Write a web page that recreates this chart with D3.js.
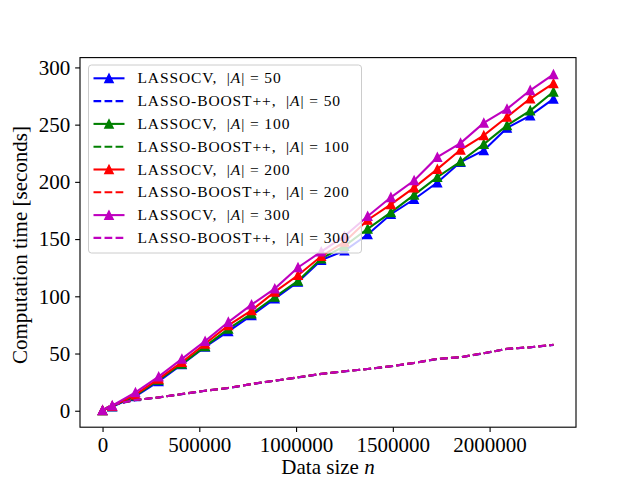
<!DOCTYPE html>
<html>
<head>
<meta charset="utf-8">
<script src="https://cdn.jsdelivr.net/npm/d3@7"></script>
<style>
  body { margin: 0; background: #fff; }
  svg text { font-family: "Liberation Serif", "DejaVu Serif", serif; }
</style>
</head>
<body>
<div id="chart"></div>
<script>
// data size n
const xValues = [0, 50000, 170000, 290000, 410000, 530000, 650000, 770000, 890000, 1010000,
  1130000, 1250000, 1370000, 1490000, 1610000, 1730000, 1850000, 1970000, 2090000, 2210000, 2330000];

// LassoCV computation time, one per |A|
const lassoCv50 = [0.3, 3.5, 12.6, 25.7, 40.4, 55.8, 69.3, 83.3, 98.0, 112.5, 131.6, 139.8, 154.0,
  171.7, 184.8, 199.4, 217.3, 227.5, 247.1, 257.9, 272.5];
const lassoCv100 = [0.3, 3.8, 13.2, 26.9, 41.0, 56.3, 71.6, 84.8, 99.4, 113.4, 133.0, 143.8, 159.0,
  173.4, 188.6, 204.1, 217.8, 233.0, 249.4, 262.3, 278.7];
const lassoCv200 = [0.4, 4.0, 14.0, 27.8, 42.4, 58.5, 74.6, 87.7, 103.8, 118.4, 135.0, 147.5, 166.7,
  180.4, 195.0, 211.1, 228.0, 240.6, 256.7, 272.8, 286.0];
const lassoCv300 = [0.5, 4.5, 16.0, 29.8, 45.3, 60.8, 77.5, 92.7, 106.7, 125.2, 139.0, 152.5, 170.0,
  186.5, 201.2, 221.6, 233.9, 251.5, 263.7, 280.0, 293.9];

// Lasso-Boost++ computation time (the four curves lie on top of each other)
const boost50 = [0.3, 5.2, 9.3, 11.6, 14.5, 17.4, 19.8, 23.3, 26.2, 29.1, 32.1, 34.4, 36.4,
  38.8, 41.7, 45.2, 46.7, 50.2, 54.0, 55.4, 57.5];
const boost100 = [0.3, 5.3, 9.4, 11.7, 14.6, 17.5, 19.9, 23.4, 26.3, 29.2, 32.2, 34.5, 36.5,
  38.9, 41.8, 45.3, 46.8, 50.3, 54.1, 55.5, 57.6];
const boost200 = [0.3, 5.3, 9.4, 11.7, 14.6, 17.5, 19.9, 23.4, 26.3, 29.2, 32.2, 34.5, 36.5,
  38.9, 41.8, 45.3, 46.8, 50.3, 54.1, 55.5, 57.6];
const boost300 = [0.3, 5.3, 9.4, 11.7, 14.6, 17.5, 19.9, 23.4, 26.3, 29.2, 32.2, 34.5, 36.5,
  38.9, 41.8, 45.3, 46.8, 50.3, 54.1, 55.5, 57.6];

const sizes = ["50", "100", "200", "300"];
const colors = ["#0000ff", "#008000", "#ff0000", "#bf00bf"];
const xTicks = [0, 500000, 1000000, 1500000, 2000000];
const yTicks = [0, 50, 100, 150, 200, 250, 300];

const width = 640,
  height = 480;
const margin = { left: 80, right: 64, top: 57.6, bottom: 52.8 };
const pt = 100 / 72;

const svg = d3.select("#chart")
  .append("svg")
  .attr("width", width)
  .attr("height", height);

// build the series list: solid LassoCV then dashed Lasso-Boost++ for each |A|
const lassoAll = [lassoCv50, lassoCv100, lassoCv200, lassoCv300];
const boostAll = [boost50, boost100, boost200, boost300];
const series = [];
sizes.forEach(function (s, i) {
  series.push({ name: "LASSOCV", size: s, color: colors[i], values: lassoAll[i], dashed: false });
  series.push({ name: "LASSO-BOOST++", size: s, color: colors[i], values: boostAll[i], dashed: true });
});

// matplotlib style 5% margins on the data range
const xExt = d3.extent(xValues);
const allY = [].concat(...lassoAll, ...boostAll);
const yExt = d3.extent(allY);
const xPad = (xExt[1] - xExt[0]) * 0.05;
const yPad = (yExt[1] - yExt[0]) * 0.05;

const x = d3.scaleLinear()
  .domain([xExt[0] - xPad, xExt[1] + xPad])
  .range([margin.left, width - margin.right]);
const y = d3.scaleLinear()
  .domain([yExt[0] - yPad, yExt[1] + yPad])
  .range([height - margin.bottom, margin.top]);

// axes
const xAxis = svg.append("g")
  .attr("transform", `translate(0, ${height - margin.bottom})`)
  .call(d3.axisBottom(x).tickValues(xTicks).tickFormat(d3.format("d"))
    .tickSize(3.5 * pt).tickPadding(3.5 * pt).tickSizeOuter(0));
const yAxis = svg.append("g")
  .attr("transform", `translate(${margin.left}, 0)`)
  .call(d3.axisLeft(y).tickValues(yTicks).tickFormat(d3.format("d"))
    .tickSize(3.5 * pt).tickPadding(3.5 * pt).tickSizeOuter(0));

[xAxis, yAxis].forEach(function (g) {
  g.select(".domain").remove();
  g.selectAll(".tick line").attr("stroke", "#000").attr("stroke-width", 0.8 * pt);
  g.selectAll(".tick text")
    .attr("fill", "#000")
    .style("font-size", "21px")
    .style("font-family", '"Liberation Serif", serif');
});

// lines and markers
const line = d3.line()
  .x(function (d) { return x(d[0]) })
  .y(function (d) { return y(d[1]) });

const s = 3 * pt; // half of marker size 6pt
const tri = `M0,${-s}L${-s},${s}L${s},${s}Z`;

const plot = svg.append("g");
series.forEach(function (se) {
  const pts = xValues.map(function (xv, i) { return [xv, se.values[i]] });
  plot.append("path")
    .datum(pts)
    .attr("d", line)
    .attr("fill", "none")
    .attr("stroke", se.color)
    .attr("stroke-width", 1.5 * pt)
    .attr("stroke-dasharray", se.dashed ? `${5.55 * pt},${2.4 * pt}` : null);
  if (!se.dashed) {
    plot.selectAll(null)
      .data(pts)
      .join("path")
      .attr("d", tri)
      .attr("transform", function (d) { return `translate(${x(d[0])},${y(d[1])})` })
      .attr("fill", se.color)
      .attr("stroke", se.color)
      .attr("stroke-width", 1 * pt);
  }
});

// frame
svg.append("rect")
  .attr("x", margin.left)
  .attr("y", margin.top)
  .attr("width", width - margin.left - margin.right)
  .attr("height", height - margin.top - margin.bottom)
  .attr("fill", "none")
  .attr("stroke", "#000")
  .attr("stroke-width", 0.8 * pt);

// axis labels
const xLabel = svg.append("text")
  .attr("x", (margin.left + width - margin.right) / 2)
  .attr("y", 474)
  .attr("text-anchor", "middle")
  .style("font-size", "21px");
xLabel.append("tspan").text("Data size ");
xLabel.append("tspan").style("font-style", "italic").text("n");

svg.append("text")
  .attr("transform", `translate(27, 245) rotate(-90)`)
  .attr("text-anchor", "middle")
  .style("font-size", "21px")
  .text("Computation time [seconds]");

// legend
const legend = svg.append("g");
const rowH = 22.8;
const lx = 88.5,
  ly = 65;
legend.append("rect")
  .attr("x", lx)
  .attr("y", ly)
  .attr("width", 273)
  .attr("height", 188)
  .attr("rx", 3)
  .attr("fill", "#fff")
  .attr("fill-opacity", 0.8)
  .attr("stroke", "#cccccc")
  .attr("stroke-width", 1);

series.forEach(function (se, i) {
  const cy = 78.3 + i * rowH;
  legend.append("line")
    .attr("x1", lx + 5)
    .attr("x2", lx + 36)
    .attr("y1", cy)
    .attr("y2", cy)
    .attr("stroke", se.color)
    .attr("stroke-width", 1.5 * pt)
    .attr("stroke-dasharray", se.dashed ? `${5.55 * pt},${2.4 * pt}` : null);
  if (!se.dashed) {
    legend.append("path")
      .attr("d", tri)
      .attr("transform", `translate(${lx + 20.5},${cy})`)
      .attr("fill", se.color)
      .attr("stroke", se.color)
      .attr("stroke-width", 1 * pt);
  }
  const t = legend.append("text")
    .attr("x", lx + 49)
    .attr("y", cy + 5)
    .style("font-size", "15.5px")
    .style("letter-spacing", "0.9px")
    .attr("xml:space", "preserve");
  t.append("tspan").text(`${se.name},  |`);
  t.append("tspan").style("font-style", "italic").text("A");
  t.append("tspan").text(`| = ${se.size}`);
});
</script>
</body>
</html>
